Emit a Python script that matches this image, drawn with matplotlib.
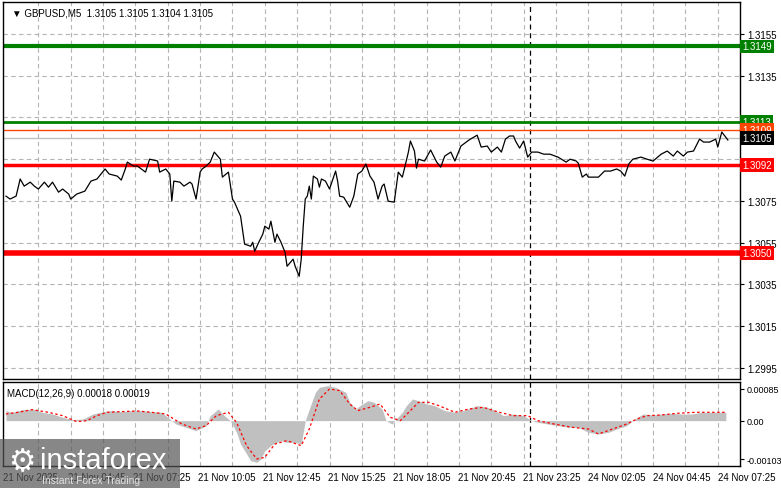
import matplotlib
matplotlib.use("Agg")
import matplotlib.pyplot as plt
from matplotlib.patches import Rectangle
plt.rcParams['font.family'] = ['Liberation Sans', 'DejaVu Sans']

# ---- data ----
price_bar = [0,2,5,7,9,12,14,16,19,21,23,26,28,31,32,35,39,42,45,49,51,55,57,59,60,63,65,69,71,75,76,79,81,82,83,86,88,91,92,94,96,97,99,101,103,106,107,110,112,113,116,118,121,122,123,125,127,128,130,131,133,134,136,138,139,142,143,145,146,147,148,149,150,151,152,154,155,156,158,160,163,164,165,167,170,172,174,176,178,180,182,184,186,187,189,192,194,196,197,199,200,202,203,204,207,210,213,215,217,220,222,225,229,233,235,238,240,243,245,247,249,251,252,254,256,258,260,263,266,269,273,277,279,282,283,285,287,288,293,296,299,302,304,306,308,310,314,317,320,324,327,330,332,335,337,340,343,345,348,351,352,354,357]
price = [1.30773,1.30759,1.30773,1.30855,1.30821,1.30840,1.30821,1.30807,1.30840,1.30816,1.30840,1.30792,1.30807,1.30783,1.30759,1.30783,1.30797,1.30845,1.30855,1.30903,1.30879,1.30869,1.30850,1.30903,1.30936,1.30917,1.30917,1.30888,1.30950,1.30941,1.30888,1.30903,1.30879,1.30749,1.30845,1.30840,1.30821,1.30840,1.30831,1.30759,1.30888,1.30903,1.30917,1.30936,1.30984,1.30950,1.30864,1.30888,1.30759,1.30744,1.30677,1.30543,1.30533,1.30552,1.30509,1.30552,1.30591,1.30629,1.30615,1.30653,1.30552,1.30591,1.30552,1.30504,1.30437,1.30471,1.30437,1.30389,1.30471,1.30629,1.30759,1.30773,1.30821,1.30759,1.30869,1.30855,1.30816,1.30855,1.30845,1.30807,1.30893,1.30845,1.30773,1.30768,1.30720,1.30773,1.30879,1.30893,1.30927,1.30869,1.30840,1.30759,1.30821,1.30831,1.30749,1.30744,1.30888,1.30864,1.30903,1.30984,1.31037,1.30989,1.30907,1.30950,1.30941,1.30994,1.30936,1.30912,1.30965,1.30984,1.30941,1.31013,1.31042,1.31065,1.31008,1.31013,1.30984,1.31008,1.30984,1.31046,1.31061,1.31061,1.31037,1.31003,1.31037,1.30960,1.30984,1.30984,1.30974,1.30974,1.30960,1.30936,1.30950,1.30941,1.30931,1.30864,1.30879,1.30864,1.30864,1.30893,1.30893,1.30903,1.30893,1.30869,1.30927,1.30950,1.30960,1.30950,1.30941,1.30974,1.30989,1.30965,1.30989,1.30965,1.30984,1.30989,1.31046,1.31032,1.31032,1.31046,1.31008,1.31080,1.31042]

macd_bar = [0,3,8,13,18,23,28,33,38,43,48,52,57,62,67,72,77,79,82,84,89,94,99,101,105,108,111,114,116,119,121,124,126,128,132,136,139,143,146,148,150,153,155,159,163,168,170,173,175,179,182,186,188,191,193,196,198,201,204,208,212,217,222,226,233,238,242,246,251,256,260,263,268,273,278,283,288,293,298,302,307,311,315,320,324,329,334,339,344,349,356]
macd_hist = [26.9,22.4,29.5,31.3,22.4,17.9,9.0,2.7,4.5,17.9,24.2,26.9,24.2,26.9,26.9,24.2,22.4,13.4,0,-9.0,-17.9,-26.9,-13.4,13.4,31.3,13.4,0,-31.3,-62.7,-89.5,-107.4,-111.9,-102.9,-80.6,-62.7,-53.7,-58.2,-58.2,-62.7,0,31.3,76.1,89.5,94.0,89.5,76.1,49.2,31.3,40.3,53.7,49.2,31.3,0,-9.0,4.5,22.4,40.3,58.2,53.7,44.8,40.3,26.9,22.4,26.9,40.3,35.8,26.9,13.4,17.9,13.4,0,-4.5,-9.0,-13.4,-17.9,-17.9,-31.3,-35.8,-31.3,-22.4,-13.4,4.5,17.9,15.2,17.9,19.7,17.9,17.9,22.4,22.4,22.4]
sig_bar = [0,6,13,21,28,35,40,45,50,57,65,72,79,87,94,99,104,110,114,119,124,128,133,139,146,150,155,160,165,170,174,180,185,190,195,200,204,209,214,222,229,236,244,251,258,263,271,280,288,293,300,307,312,317,324,332,341,356]
sig_val = [17.9,22.4,29.5,22.4,13.4,-2.7,0,13.4,22.4,24.2,26.0,22.4,17.9,-9.0,-22.4,-13.4,13.4,22.4,-4.5,-67.1,-102.9,-98.5,-62.7,-53.7,-67.1,-22.4,58.2,85.0,80.6,44.8,26.9,35.8,44.8,9.0,0,26.9,49.2,49.2,40.3,22.4,31.3,35.8,22.4,13.4,13.4,0,-9.0,-17.9,-22.4,-35.8,-22.4,-9.0,4.5,13.4,15.2,19.7,22.4,22.4]

price_ticks = [1.3155,1.3135,1.3075,1.3055,1.3035,1.3015,1.2995]
grid_prices = [1.3155,1.3135,1.3115,1.3095,1.3075,1.3055,1.3035,1.3015,1.2995]
levels = [(1.3149,"#008000",3.0,"1.3149"),(1.3113,"#008000",2.0,"1.3113"),
          (1.3109,"#ff4500",1.0,"1.3109"),(1.3105,"#c0c0c0",1.0,"1.3105"),
          (1.3092,"#ff0000",2.5,"1.3092"),(1.3050,"#ff0000",4.0,"1.3050")]
box_colors = {"1.3105":"black","1.3109":"#ff4500"}
time_pos = [0,32,64,96,128,160,192,224,256,288,320,352]
time_labels = ["21 Nov 2025","21 Nov 04:45","21 Nov 07:25","21 Nov 10:05","21 Nov 12:45","21 Nov 15:25",
               "21 Nov 18:05","21 Nov 20:45","21 Nov 23:25","24 Nov 02:05","24 Nov 04:45","24 Nov 07:25"]
separator_bar = 259

fig = plt.figure(figsize=(7.81,4.89), dpi=100)
ax = fig.add_axes([0.0038,0.2229,0.9437,0.771])
ax2 = fig.add_axes([0.0038,0.045,0.9437,0.1718])
XL = (-1.5, 363)
gk = dict(color="#b4b4b4", ls=(0,(4,3)), lw=0.8, zorder=0)
for a in (ax, ax2):
    a.set_xlim(*XL)
    for b in range(16, 363, 16):
        a.axvline(b, **gk)
    a.axvline(separator_bar, color="black", ls=(0,(4,3)), lw=0.9, zorder=1)
    a.yaxis.tick_right()
    a.tick_params(axis="y", labelsize=7, length=3, pad=2)
    a.set_xticks([])
    for s in a.spines.values():
        s.set_linewidth(1.0)

ax.set_ylim(1.29897, 1.31703)
for g in grid_prices:
    ax.axhline(g, **gk)
ax.set_yticks(price_ticks)
ax.set_yticklabels([f"{t:.4f}" for t in price_ticks])
for p, c, lw, lab in levels:
    ax.axhline(p, color=c, lw=lw, zorder=2)
    ax.text(1.003, p, lab, transform=ax.get_yaxis_transform(), fontsize=7, color="white",
            va="center", ha="left", clip_on=False,
            bbox=dict(boxstyle="square,pad=0.2", fc=box_colors.get(lab, c), ec="none"))
ax.plot(price_bar, price, color="black", lw=0.9, zorder=3)
ax.text(0.012, 0.985, "\u25BC GBPUSD,M5  1.3105 1.3105 1.3104 1.3105", transform=ax.transAxes,
        fontsize=7, va="top", ha="left")

ax2.set_ylim(-121.7, 103.8)
ax2.fill_between(macd_bar, 0, macd_hist, color="#c0c0c0", lw=0, zorder=2)
ax2.plot(sig_bar, sig_val, color="red", ls=(0,(2,2)), lw=0.9, zorder=3)
ax2.set_yticks([85, 0, -103])
ax2.set_yticklabels(["0.00085","0.00","-0.00103"])
ax2.tick_params(axis="y", labelsize=6.5)
ax2.text(0.005, 0.93, "MACD(12,26,9) 0.00018 0.00019", transform=ax2.transAxes, fontsize=7, va="top")

for b, l in zip(time_pos, time_labels):
    fig.text((3 + b*2.03)/781, 1-478/489, l, fontsize=7, va="center", ha="left")

fig.patches.append(Rectangle((0,0), 180/781, 49/489, transform=fig.transFigure,
                             fc="#555555", alpha=0.7, ec="none", zorder=10))
fig.text(40/781, 1-461/489, "instaforex", fontsize=21, color="white", va="center", zorder=11)
fig.text(42/781, 1-481/489, "Instant Forex Trading", fontsize=7.5, color="#e0e0e0", va="center", zorder=11)
fig.text(8/781, 1-463/489, "\u2699", fontsize=22, color="white", va="center", zorder=11)

fig.savefig("out.png", dpi=100)
